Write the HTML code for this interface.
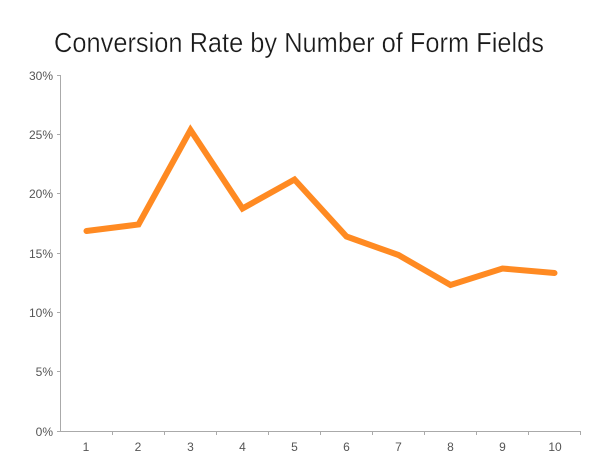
<!DOCTYPE html>
<html><head><meta charset="utf-8"><style>
html,body{margin:0;padding:0;background:#fff;}
svg{display:block;}
</style></head><body>
<svg width="600" height="464" viewBox="0 0 600 464" xmlns="http://www.w3.org/2000/svg">
<text x="299" y="52" text-anchor="middle" font-family="Liberation Sans, sans-serif" font-size="28" fill="#1a1a1a" textLength="490" lengthAdjust="spacingAndGlyphs" stroke="#fff" stroke-width="0.35">Conversion Rate by Number of Form Fields</text>
<g stroke="#aaaaaa" stroke-width="1" fill="none">
<line x1="60.5" y1="75" x2="60.5" y2="431.5"/>
<line x1="60" y1="431.5" x2="581" y2="431.5"/>
<line x1="57" y1="75.5" x2="60" y2="75.5"/>
<line x1="57" y1="134.5" x2="60" y2="134.5"/>
<line x1="57" y1="193.5" x2="60" y2="193.5"/>
<line x1="57" y1="253.5" x2="60" y2="253.5"/>
<line x1="57" y1="312.5" x2="60" y2="312.5"/>
<line x1="57" y1="371.5" x2="60" y2="371.5"/>
<line x1="57" y1="431.5" x2="60" y2="431.5"/>
<line x1="112.5" y1="431" x2="112.5" y2="435"/>
<line x1="164.5" y1="431" x2="164.5" y2="435"/>
<line x1="216.5" y1="431" x2="216.5" y2="435"/>
<line x1="268.5" y1="431" x2="268.5" y2="435"/>
<line x1="320.5" y1="431" x2="320.5" y2="435"/>
<line x1="372.5" y1="431" x2="372.5" y2="435"/>
<line x1="424.5" y1="431" x2="424.5" y2="435"/>
<line x1="476.5" y1="431" x2="476.5" y2="435"/>
<line x1="528.5" y1="431" x2="528.5" y2="435"/>
<line x1="580.5" y1="431" x2="580.5" y2="435"/>
</g>
<g font-family="Liberation Sans, sans-serif" font-size="12" fill="#555" text-anchor="end">
<text x="53" y="80">30%</text>
<text x="53" y="139">25%</text>
<text x="53" y="198">20%</text>
<text x="53" y="258">15%</text>
<text x="53" y="317">10%</text>
<text x="53" y="376">5%</text>
<text x="53" y="436">0%</text>
</g>
<g font-family="Liberation Sans, sans-serif" font-size="12" fill="#555" text-anchor="middle">
<text x="86" y="451">1</text>
<text x="138" y="451">2</text>
<text x="190.5" y="451">3</text>
<text x="242.5" y="451">4</text>
<text x="294.5" y="451">5</text>
<text x="346.5" y="451">6</text>
<text x="398.5" y="451">7</text>
<text x="450.5" y="451">8</text>
<text x="502.5" y="451">9</text>
<text x="555" y="451">10</text>
</g>
<polyline fill="none" stroke="#ff8a22" stroke-width="6" stroke-linejoin="miter" stroke-linecap="round"
points="86.5,231 138.5,224.5 190.5,130 242.5,208.5 294.5,179.5 346.5,236.5 398.5,255 450.5,285 502.5,268.5 554.5,273"/>
</svg>
</body></html>
